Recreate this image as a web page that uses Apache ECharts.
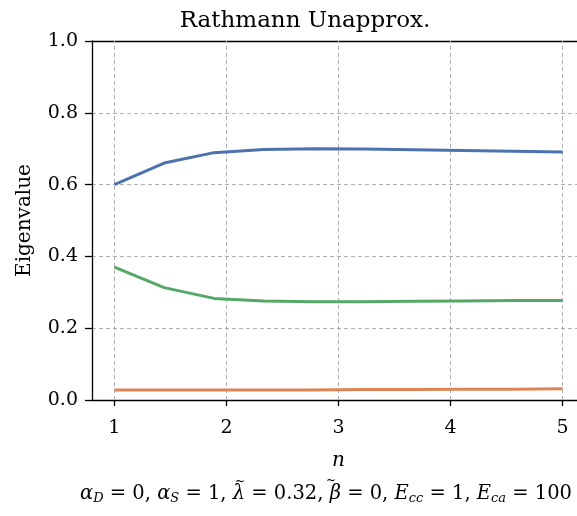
<!DOCTYPE html>
<html>
<head>
<meta charset="utf-8">
<script src="https://cdn.jsdelivr.net/npm/echarts@6/dist/echarts.min.js"></script>
<style>html,body{margin:0;padding:0;background:#fff}#c{width:577px;height:516px}</style>
</head>
<body>
<div id="c"></div>
<script>
var nValues = [1, 1.444, 1.889, 2.333, 2.778, 3.222, 3.667, 4.111, 4.556, 5];
var blueSeries = [0.600, 0.660, 0.689, 0.698, 0.700, 0.699, 0.697, 0.695, 0.693, 0.691];
var greenSeries = [0.370, 0.313, 0.283, 0.276, 0.274, 0.274, 0.275, 0.276, 0.277, 0.277];
var orangeSeries = [0.028, 0.028, 0.028, 0.028, 0.028, 0.029, 0.029, 0.030, 0.030, 0.031];
var xTicks = [1, 2, 3, 4, 5];
var yTicks = [0, 0.2, 0.4, 0.6, 0.8, 1.0];

var FONT = 'DejaVu Serif';
function pairs(ys) { return nValues.map(function (x, i) { return [x, ys[i]]; }); }

var chart = echarts.init(document.getElementById('c'), null, {renderer: 'canvas'});
var gridLine = {type: [4, 3], color: '#b0b0b0', width: 1};
chart.setOption({
  animation: false,
  backgroundColor: '#fff',
  title: {
    text: 'Rathmann Unapprox.', left: 300, top: 5, textAlign: 'center',
    textStyle: {fontFamily: FONT, fontWeight: 'normal', fontSize: 23, color: '#000'}
  },
  grid: {left: 92, top: 41, width: 493, height: 359, outerBoundsMode: 'none', containLabel: false},
  xAxis: [{
    type: 'value', min: 0.8, max: 5.2,
    name: 'n', nameLocation: 'middle', nameGap: 51,
    nameTextStyle: {fontFamily: FONT, fontStyle: 'italic', fontSize: 20, color: '#000'},
    axisLine: {show: true, lineStyle: {color: '#000', width: 1.3}},
    axisTick: {show: true, length: 6, inside: false, customValues: xTicks, lineStyle: {color: '#000', width: 1.3}},
    axisLabel: {customValues: xTicks, fontFamily: FONT, fontSize: 19, color: '#000', margin: 19},
    splitLine: {show: false}
  }, {
    type: 'value', min: 0.8, max: 5.2, position: 'top',
    axisLine: {show: true, lineStyle: {color: '#000', width: 1.3}},
    axisTick: {show: false}, axisLabel: {show: false}, splitLine: {show: false}
  }],
  yAxis: {
    type: 'value', min: 0, max: 1, interval: 0.2,
    name: 'Eigenvalue', nameLocation: 'middle', nameGap: 57,
    nameTextStyle: {fontFamily: FONT, fontSize: 20, color: '#000'},
    axisLine: {show: true, lineStyle: {color: '#000', width: 1.3}},
    axisTick: {show: true, length: 7, lineStyle: {color: '#000', width: 1.3}},
    axisLabel: {fontFamily: FONT, fontSize: 19, color: '#000', margin: 14,
      formatter: function (v) { return v.toFixed(1); }},
    splitLine: {show: true, lineStyle: gridLine}
  },
  series: [
    {type: 'line', data: pairs(blueSeries), symbol: 'none', lineStyle: {color: '#4c72b0', width: 3}, z: 3,
      markLine: {silent: true, symbol: 'none', label: {show: false}, lineStyle: gridLine, z: 1,
        data: xTicks.map(function (x) { return {xAxis: x}; })}},
    {type: 'line', data: pairs(orangeSeries), symbol: 'none', lineStyle: {color: '#dd8452', width: 3}, z: 3},
    {type: 'line', data: pairs(greenSeries), symbol: 'none', lineStyle: {color: '#55a868', width: 3}, z: 3}
  ],
  graphic: [{
    type: 'text', left: 80, top: 484, z: 10,
    style: {
      fontFamily: FONT, fontSize: 19.5, fill: '#000',
      text: '{i|α}{s|D} = 0, {i|α}{s|S} = 1, {i|λ} = 0.32, {i|β} = 0, {i|E}{s|cc} = 1, {i|E}{s|ca} = 100',
      rich: {
        i: {fontFamily: FONT, fontStyle: 'italic', fontSize: 19.5},
        s: {fontFamily: FONT, fontStyle: 'italic', fontSize: 13, verticalAlign: 'bottom', padding: [10, 0, 0, 0]}
      }
    }
  }, {
    type: 'text', x: 240, y: 482, z: 10,
    style: {text: '~', fontFamily: FONT, fontSize: 12, fill: '#000', align: 'center', verticalAlign: 'middle'}
  }, {
    type: 'text', x: 331, y: 481, z: 10,
    style: {text: '~', fontFamily: FONT, fontSize: 12, fill: '#000', align: 'center', verticalAlign: 'middle'}
  }]
});
</script>
</body>
</html>
